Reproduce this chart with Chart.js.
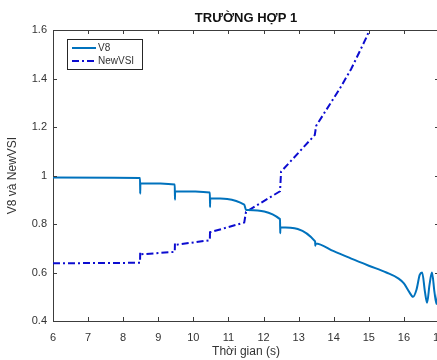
<!DOCTYPE html>
<html>
<head>
<meta charset="utf-8">
<script src="https://cdn.jsdelivr.net/npm/chart.js@4/dist/chart.umd.min.js"></script>
<style>
  html, body { margin: 0; padding: 0; overflow: hidden; background: #fff; }
  #wrap { width: 492px; height: 360px; }
</style>
</head>
<body>
<div id="wrap"><canvas id="chart" width="492" height="360"></canvas></div>
<script>
// du lieu doc tu hinh
var v8Time  = [6, 8.48, 8.485, 8.49, 9.47, 9.475, 9.48, 10.47, 10.475, 10.48, 11.45, 11.5, 12.47, 12.475, 12.48, 13.47, 13.475, 13.48,
               14.0, 14.5, 15.0, 15.5, 15.85, 16.0, 16.15, 16.26, 16.36, 16.45, 16.52, 16.6, 16.66, 16.73, 16.8, 16.87, 16.93, 17.0];
var v8Value = [0.992, 0.99, 0.925, 0.968, 0.963, 0.90, 0.935, 0.930, 0.87, 0.906, 0.880, 0.858, 0.820, 0.762, 0.787, 0.728, 0.71, 0.72,
               0.688, 0.657, 0.628, 0.600, 0.575, 0.555, 0.52, 0.50, 0.53, 0.59, 0.60, 0.52, 0.475, 0.55, 0.60, 0.52, 0.47, 0.56];

var vsiTime  = [6, 8.48, 8.485, 8.49, 9.47, 9.475, 9.48, 10.47, 10.475, 10.48, 11.45, 11.5, 12.47, 12.5, 13.46, 13.5, 14.18, 14.5, 14.94, 15.1];
var vsiValue = [0.638, 0.64, 0.682, 0.675, 0.685, 0.72, 0.714, 0.733, 0.775, 0.766, 0.806, 0.85, 0.935, 1.016, 1.167, 1.205, 1.36, 1.44, 1.572, 1.63];

var xTicks = [6, 7, 8, 9, 10, 11, 12, 13, 14, 15, 16, 17];
var yTicks = [0.4, 0.6, 0.8, 1, 1.2, 1.4, 1.6];

var seriesNames = ['V8', 'NewVSI'];
var chartTitle = 'TRƯỜNG HỢP 1';
var xTitle = 'Thời gian (s)';
var yTitle = 'V8 và NewVSI';

function toPoints(t, v) {
    return t.map(function (x, i) { return { x: x, y: v[i] }; });
}

var axisColor = '#3c3c3c';
var textColor = '#333333';
var fontFam = '"Liberation Sans", Arial, sans-serif';

// ve khung va vach chia huong vao trong (kieu MATLAB)
var boxTicks = {
    id: 'boxTicks',
    afterDraw: function (chart) {
        var ctx = chart.ctx, a = chart.chartArea;
        var xs = chart.scales.x, ys = chart.scales.y;
        ctx.save();
        ctx.strokeStyle = axisColor;
        ctx.lineWidth = 1;
        ctx.beginPath();
        ctx.moveTo(a.left, a.top + 0.5); ctx.lineTo(a.right, a.top + 0.5);
        ctx.moveTo(a.right - 0.5, a.top); ctx.lineTo(a.right - 0.5, a.bottom);
        xTicks.forEach(function (t) {
            var px = Math.round(xs.getPixelForValue(t)) + 0.5;
            ctx.moveTo(px, a.bottom); ctx.lineTo(px, a.bottom - 4);
            ctx.moveTo(px, a.top); ctx.lineTo(px, a.top + 4);
        });
        yTicks.forEach(function (t) {
            var py = Math.round(ys.getPixelForValue(t)) + 0.5;
            ctx.moveTo(a.left, py); ctx.lineTo(a.left + 4, py);
            ctx.moveTo(a.right, py); ctx.lineTo(a.right - 4, py);
        });
        ctx.stroke();

        // tieu de can giua theo truc (nhu MATLAB)
        ctx.fillStyle = '#111';
        ctx.font = 'bold 13px ' + fontFam;
        ctx.textAlign = 'center';
        ctx.textBaseline = 'middle';
        ctx.fillText(chartTitle, (a.left + a.right) / 2, 18);
        ctx.restore();
    }
};

// chu giai trong vung ve
var boxLegend = {
    id: 'boxLegend',
    afterDraw: function (chart) {
        var ctx = chart.ctx, a = chart.chartArea;
        var x0 = a.left + 14, y0 = a.top + 9, w = 75, h = 30;
        ctx.save();
        ctx.fillStyle = '#fff';
        ctx.fillRect(x0, y0, w, h);
        ctx.strokeStyle = '#262626';
        ctx.lineWidth = 1;
        ctx.strokeRect(x0 + 0.5, y0 + 0.5, w, h);
        chart.data.datasets.forEach(function (ds, i) {
            var ly = y0 + 9 + i * 13;
            ctx.beginPath();
            ctx.strokeStyle = ds.borderColor;
            ctx.lineWidth = 2;
            ctx.setLineDash(ds.borderDash || []);
            ctx.moveTo(x0 + 5, ly);
            ctx.lineTo(x0 + 29, ly);
            ctx.stroke();
            ctx.setLineDash([]);
            ctx.fillStyle = textColor;
            ctx.font = '10px ' + fontFam;
            ctx.textBaseline = 'middle';
            ctx.fillText(ds.label, x0 + 31, ly + 0.5);
        });
        ctx.restore();
    }
};

var ctx = document.getElementById('chart').getContext('2d');
new Chart(ctx, {
    type: 'line',
    data: {
        datasets: [{
            label: seriesNames[0],
            data: toPoints(v8Time, v8Value),
            borderColor: '#0072BD',
            borderWidth: 2,
            pointRadius: 0,
            cubicInterpolationMode: 'monotone',
            fill: false
        }, {
            label: seriesNames[1],
            data: toPoints(vsiTime, vsiValue),
            borderColor: '#0c0cd0',
            borderWidth: 2,
            borderDash: [7, 3, 2, 3],
            pointRadius: 0,
            fill: false
        }]
    },
    options: {
        responsive: false,
        animation: false,
        layout: { padding: { left: 0, right: 53, top: 30, bottom: 0 } },
        scales: {
            x: {
                type: 'linear',
                min: 6, max: 17,
                afterBuildTicks: function (s) { s.ticks = xTicks.map(function (v) { return { value: v }; }); },
                afterFit: function (s) { s.height = 39; },
                grid: { display: false, drawTicks: false },
                border: { display: true, color: axisColor, width: 1 },
                ticks: { color: textColor, padding: 10, maxRotation: 0, font: { family: fontFam, size: 11 } },
                title: { display: true, text: xTitle, color: textColor, padding: { top: 0, bottom: 1 }, font: { family: fontFam, size: 12 } }
            },
            y: {
                min: 0.4, max: 1.6,
                afterBuildTicks: function (s) { s.ticks = yTicks.map(function (v) { return { value: v }; }); },
                afterFit: function (s) { s.width = 53; },
                grid: { display: false, drawTicks: false },
                border: { display: true, color: axisColor, width: 1 },
                ticks: { color: textColor, padding: 6, callback: function (v) { return String(Math.round(v * 10) / 10); }, font: { family: fontFam, size: 11 } },
                title: { display: true, text: yTitle, color: textColor, padding: { top: 5, bottom: 4 }, font: { family: fontFam, size: 12 } }
            }
        },
        plugins: {
            legend: { display: false },
            tooltip: { enabled: false },
            title: { display: false }
        }
    },
    plugins: [boxTicks, boxLegend]
});
</script>
</body>
</html>
